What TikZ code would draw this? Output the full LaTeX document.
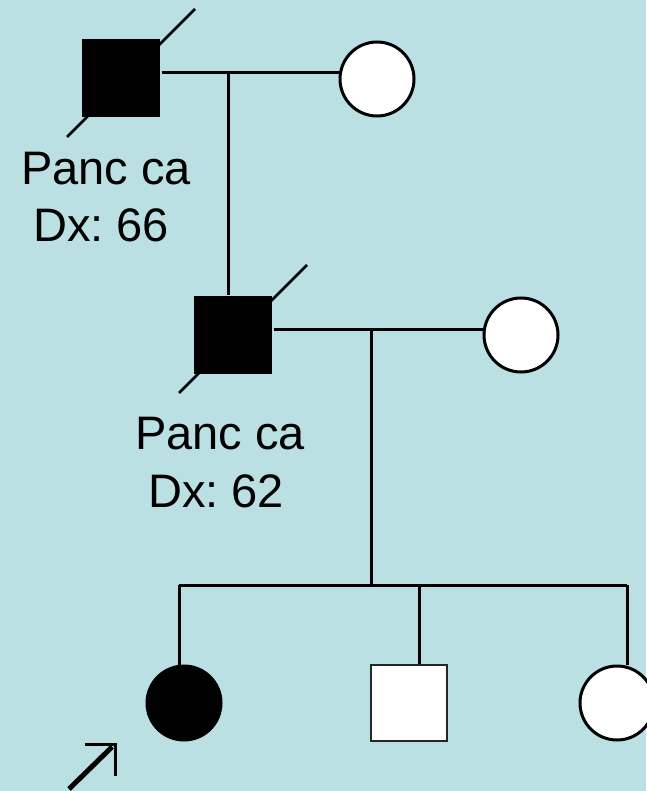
\documentclass[tikz,border=0pt]{standalone}
\usepackage{fontspec}
\setmainfont{Liberation Sans}
\usetikzlibrary{calc,backgrounds}
\definecolor{bgblue}{RGB}{186,224,228}
\frenchspacing
\begin{document}
\begin{tikzpicture}[x=1pt,y=-1pt,line width=3pt,
  male/.style={rectangle,minimum size=78pt,inner sep=0pt},
  female/.style={circle,draw=black,line width=3pt,minimum size=74pt,inner sep=0pt},
  aff/.style={fill=black},
  unaff/.style={fill=white},
  unaffm/.style={fill=white,draw=black!85,line width=2.5pt,minimum size=76pt},
  lbl/.style={font=\fontsize{47}{57}\selectfont,anchor=base,inner sep=0pt},
  slash/.style={line width=2.5pt}]
\useasboundingbox (0,0) rectangle (646,791);
% individuals
\node[male,aff] (f1) at (121,78.5) {};
\node[female,unaff] (gm1) at (377,79) {};
\node[male,aff] (f2) at (233,335) {};
\node[female,unaff] (gm2) at (521,335) {};
\node[female,aff] (p) at (184,703) {};
\node[male,unaffm] (b) at (409,703) {};
\node[female,unaff] (s) at (617,703) {};
% coordinates
\coordinate (m1) at (228,73);
\coordinate (m2) at (371,329);
\coordinate (sib) at (371,585);
\coordinate (sl) at (179,585);
\coordinate (sr) at (627,585);
\coordinate (sm) at (419,585);
% connectors
\draw (f1.east |- m1) -- (gm1.west |- m1);
\draw (m1) -- (f2.north -| m1);
\draw (f2.east |- m2) -- (gm2.west |- m2);
\draw (m2) -- (sib);
\draw (sl) -- (sr);
\draw (sl) -- (sl |- p.north);
\draw (sm) -- (sm |- b.north);
\draw (sr) -- (sr |- s.north);
% proband arrow
\coordinate (a0) at (69,789);
\coordinate (a1) at (115,744);
\draw[line width=5pt,shorten >=4pt] (a0) -- (a1);
\draw[line width=3pt] ($(a1)+(-30,0)$) -- (a1) -- ($(a1)+(0,32)$);
% labels
\node[lbl] (t1a) at (106,185) {Panc ca};
\node[lbl] (t1b) at (101,242) {Dx: 66};
\node[lbl] (t2a) at (220,449) {Panc ca};
\node[lbl] (t2b) at (216,507) {Dx: 62};
% background and deceased slashes
\begin{scope}[on background layer]
\fill[bgblue] (0,0) rectangle (646,791);
\draw[slash] ($(f1.center)+(74,-69.5)$) -- ($(f1.center)+(-54,58.5)$);
\draw[slash] ($(f2.center)+(74,-70)$) -- ($(f2.center)+(-54,58)$);
\end{scope}
\end{tikzpicture}
\end{document}
